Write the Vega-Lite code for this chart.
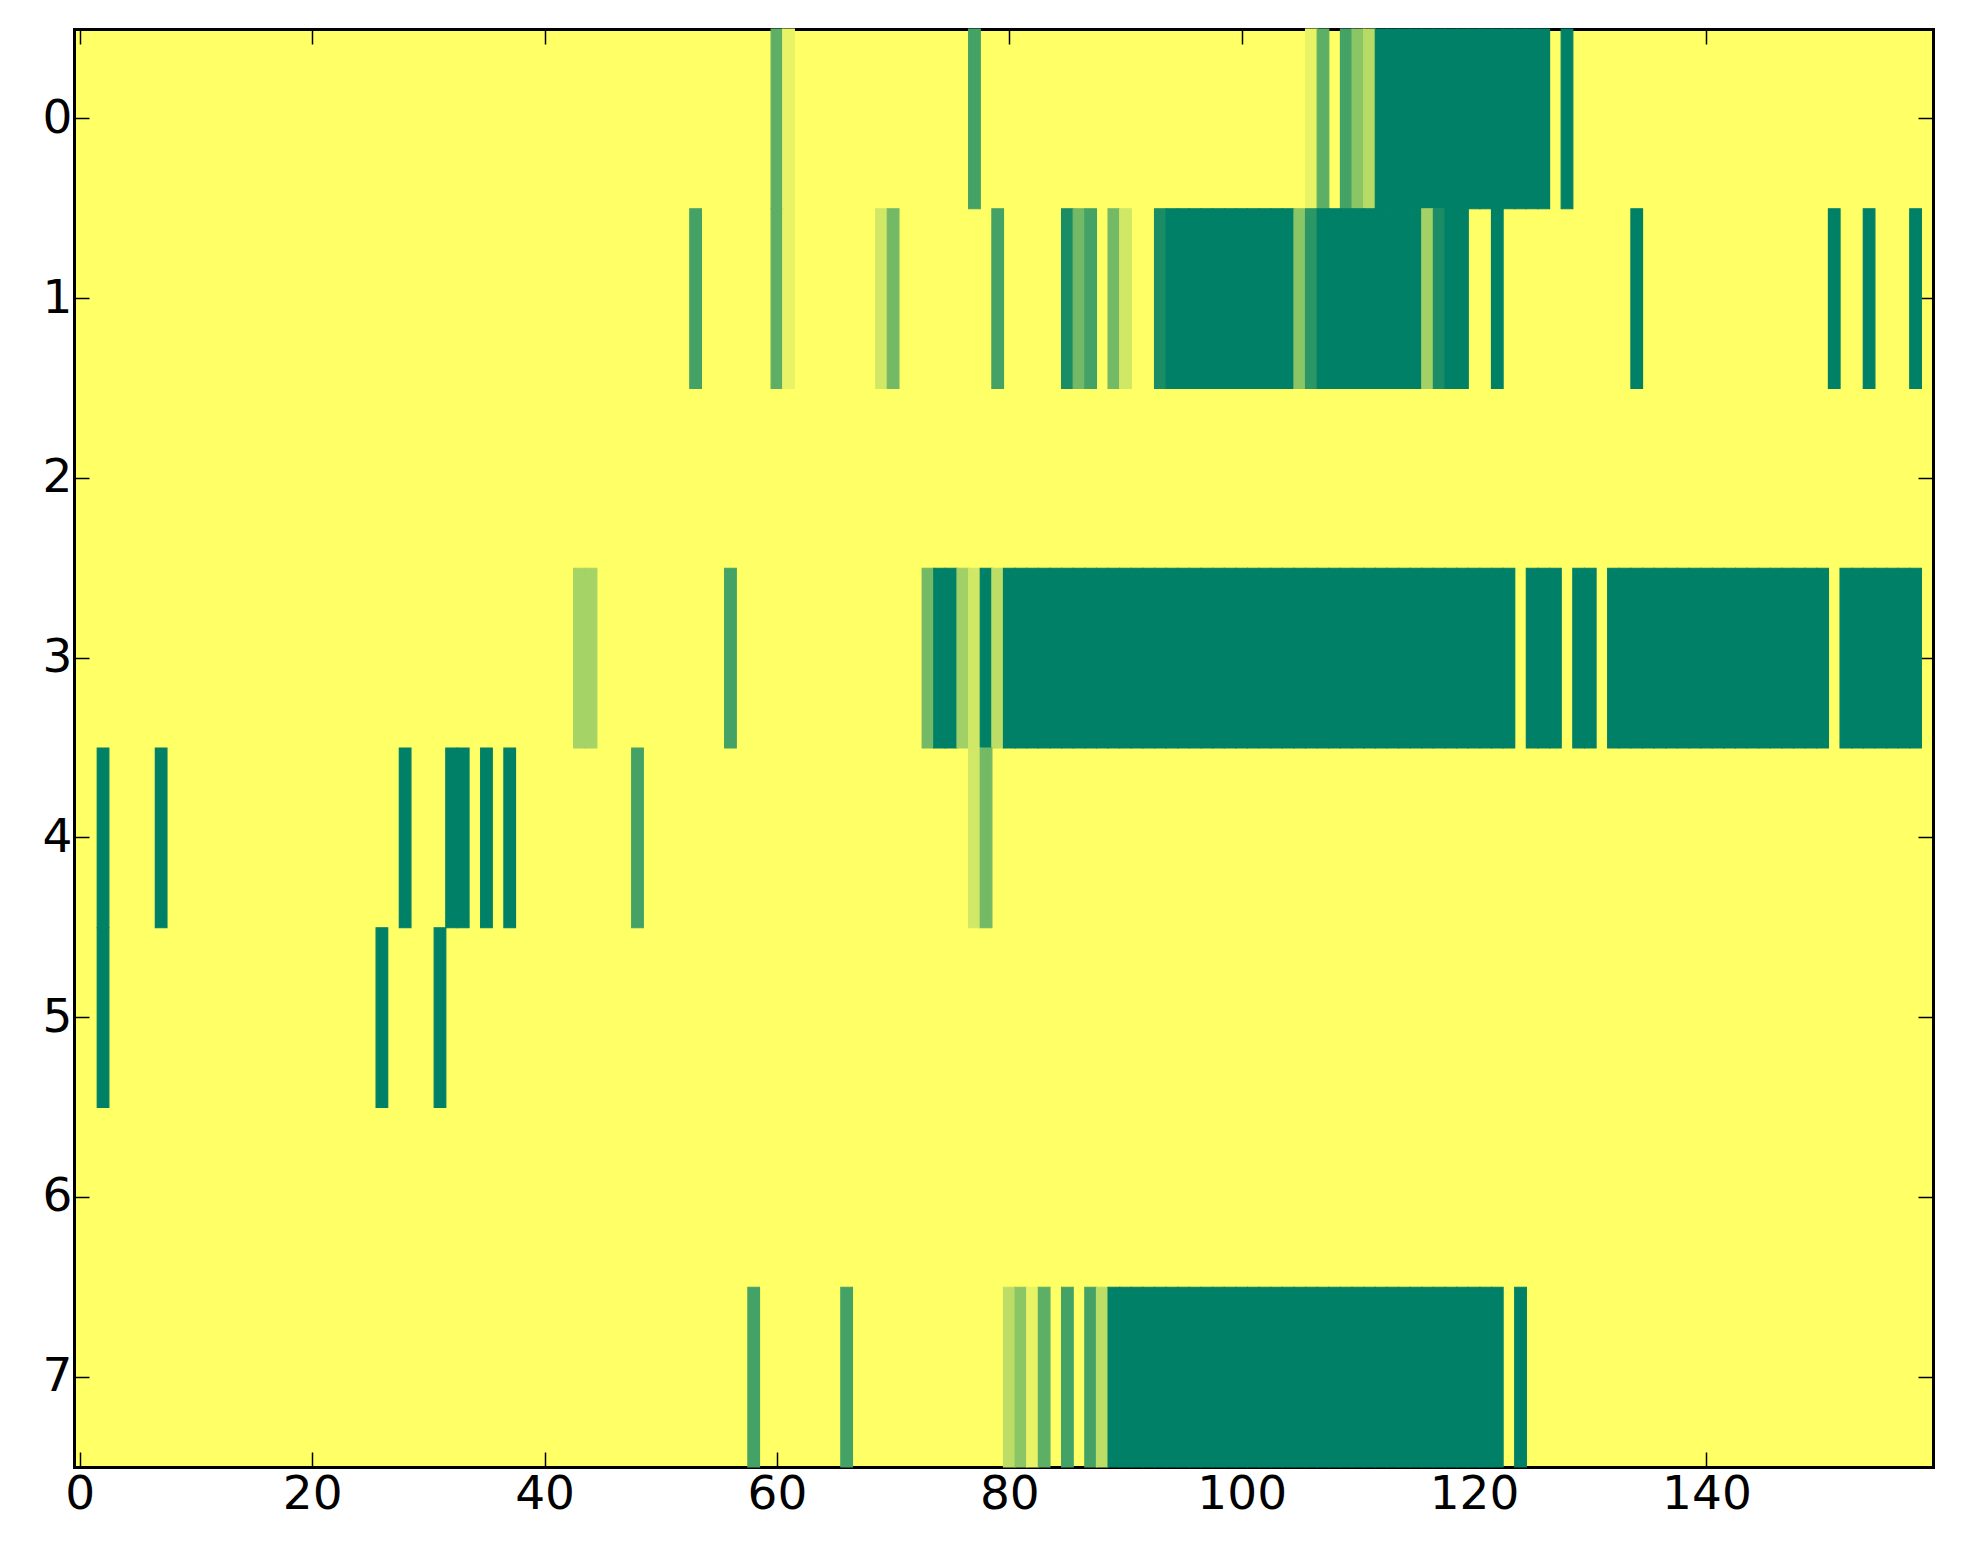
{
  "$schema": "https://vega.github.io/schema/vega-lite/v6.json",
  "width": 1859,
  "height": 1438,
  "autosize": {"type": "none"},
  "padding": {"left": 74, "top": 29, "right": 30, "bottom": 97},
  "background": "#ffffff",
  "config": {
    "view": {"stroke": null, "fill": "#ffff66"},
    "axis": {
      "grid": false,
      "title": null,
      "domain": true,
      "domainColor": "#000000",
      "domainWidth": 3,
      "domainCap": "square",
      "ticks": true,
      "tickColor": "#000000",
      "tickWidth": 1.5,
      "tickSize": -15,
      "labelFont": "DejaVu Sans",
      "labelFontSize": 47,
      "labelColor": "#000000",
      "zindex": 1
    }
  },
  "data": {
    "values": [
      {"row": 0, "col": 60, "value": 0.63}, {"row": 0, "col": 61, "value": 0.09}, {"row": 0, "col": 77, "value": 0.73},
      {"row": 0, "col": 106, "value": 0.09}, {"row": 0, "col": 107, "value": 0.63}, {"row": 0, "col": 109, "value": 0.73},
      {"row": 0, "col": 110, "value": 0.46}, {"row": 0, "col": 111, "value": 0.28},
      {"row": 0, "col": 112, "value": 1}, {"row": 0, "col": 113, "value": 1}, {"row": 0, "col": 114, "value": 1},
      {"row": 0, "col": 115, "value": 1}, {"row": 0, "col": 116, "value": 1}, {"row": 0, "col": 117, "value": 1},
      {"row": 0, "col": 118, "value": 1}, {"row": 0, "col": 119, "value": 1}, {"row": 0, "col": 120, "value": 1},
      {"row": 0, "col": 121, "value": 1}, {"row": 0, "col": 122, "value": 1}, {"row": 0, "col": 123, "value": 1},
      {"row": 0, "col": 124, "value": 1}, {"row": 0, "col": 125, "value": 1}, {"row": 0, "col": 126, "value": 1},
      {"row": 0, "col": 128, "value": 1},

      {"row": 1, "col": 53, "value": 0.73}, {"row": 1, "col": 60, "value": 0.63}, {"row": 1, "col": 61, "value": 0.09},
      {"row": 1, "col": 69, "value": 0.18}, {"row": 1, "col": 70, "value": 0.55}, {"row": 1, "col": 79, "value": 0.73},
      {"row": 1, "col": 85, "value": 0.9}, {"row": 1, "col": 86, "value": 0.55}, {"row": 1, "col": 87, "value": 0.73},
      {"row": 1, "col": 89, "value": 0.55}, {"row": 1, "col": 90, "value": 0.18}, {"row": 1, "col": 93, "value": 0.9},
      {"row": 1, "col": 94, "value": 1}, {"row": 1, "col": 95, "value": 1}, {"row": 1, "col": 96, "value": 1},
      {"row": 1, "col": 97, "value": 1}, {"row": 1, "col": 98, "value": 1}, {"row": 1, "col": 99, "value": 1},
      {"row": 1, "col": 100, "value": 1}, {"row": 1, "col": 101, "value": 1}, {"row": 1, "col": 102, "value": 1},
      {"row": 1, "col": 103, "value": 1}, {"row": 1, "col": 104, "value": 1}, {"row": 1, "col": 105, "value": 0.46},
      {"row": 1, "col": 106, "value": 0.83}, {"row": 1, "col": 107, "value": 1}, {"row": 1, "col": 108, "value": 1},
      {"row": 1, "col": 109, "value": 1}, {"row": 1, "col": 110, "value": 1}, {"row": 1, "col": 111, "value": 1},
      {"row": 1, "col": 112, "value": 1}, {"row": 1, "col": 113, "value": 1}, {"row": 1, "col": 114, "value": 1},
      {"row": 1, "col": 115, "value": 1}, {"row": 1, "col": 116, "value": 0.36}, {"row": 1, "col": 117, "value": 0.9},
      {"row": 1, "col": 118, "value": 1}, {"row": 1, "col": 119, "value": 1}, {"row": 1, "col": 122, "value": 1},
      {"row": 1, "col": 134, "value": 1}, {"row": 1, "col": 151, "value": 1}, {"row": 1, "col": 154, "value": 1},
      {"row": 1, "col": 158, "value": 1},

      {"row": 3, "col": 43, "value": 0.35}, {"row": 3, "col": 44, "value": 0.35}, {"row": 3, "col": 56, "value": 0.73},
      {"row": 3, "col": 73, "value": 0.55}, {"row": 3, "col": 74, "value": 1}, {"row": 3, "col": 75, "value": 1},
      {"row": 3, "col": 76, "value": 0.37}, {"row": 3, "col": 77, "value": 0.18}, {"row": 3, "col": 78, "value": 1},
      {"row": 3, "col": 79, "value": 0.26},
      {"row": 3, "col": 80, "value": 1}, {"row": 3, "col": 81, "value": 1}, {"row": 3, "col": 82, "value": 1},
      {"row": 3, "col": 83, "value": 1}, {"row": 3, "col": 84, "value": 1}, {"row": 3, "col": 85, "value": 1},
      {"row": 3, "col": 86, "value": 1}, {"row": 3, "col": 87, "value": 1}, {"row": 3, "col": 88, "value": 1},
      {"row": 3, "col": 89, "value": 1}, {"row": 3, "col": 90, "value": 1}, {"row": 3, "col": 91, "value": 1},
      {"row": 3, "col": 92, "value": 1}, {"row": 3, "col": 93, "value": 1}, {"row": 3, "col": 94, "value": 1},
      {"row": 3, "col": 95, "value": 1}, {"row": 3, "col": 96, "value": 1}, {"row": 3, "col": 97, "value": 1},
      {"row": 3, "col": 98, "value": 1}, {"row": 3, "col": 99, "value": 1}, {"row": 3, "col": 100, "value": 1},
      {"row": 3, "col": 101, "value": 1}, {"row": 3, "col": 102, "value": 1}, {"row": 3, "col": 103, "value": 1},
      {"row": 3, "col": 104, "value": 1}, {"row": 3, "col": 105, "value": 1}, {"row": 3, "col": 106, "value": 1},
      {"row": 3, "col": 107, "value": 1}, {"row": 3, "col": 108, "value": 1}, {"row": 3, "col": 109, "value": 1},
      {"row": 3, "col": 110, "value": 1}, {"row": 3, "col": 111, "value": 1}, {"row": 3, "col": 112, "value": 1},
      {"row": 3, "col": 113, "value": 1}, {"row": 3, "col": 114, "value": 1}, {"row": 3, "col": 115, "value": 1},
      {"row": 3, "col": 116, "value": 1}, {"row": 3, "col": 117, "value": 1}, {"row": 3, "col": 118, "value": 1},
      {"row": 3, "col": 119, "value": 1}, {"row": 3, "col": 120, "value": 1}, {"row": 3, "col": 121, "value": 1},
      {"row": 3, "col": 122, "value": 1}, {"row": 3, "col": 123, "value": 1},
      {"row": 3, "col": 125, "value": 1}, {"row": 3, "col": 126, "value": 1}, {"row": 3, "col": 127, "value": 1},
      {"row": 3, "col": 129, "value": 1}, {"row": 3, "col": 130, "value": 1},
      {"row": 3, "col": 132, "value": 1}, {"row": 3, "col": 133, "value": 1}, {"row": 3, "col": 134, "value": 1},
      {"row": 3, "col": 135, "value": 1}, {"row": 3, "col": 136, "value": 1}, {"row": 3, "col": 137, "value": 1},
      {"row": 3, "col": 138, "value": 1}, {"row": 3, "col": 139, "value": 1}, {"row": 3, "col": 140, "value": 1},
      {"row": 3, "col": 141, "value": 1}, {"row": 3, "col": 142, "value": 1}, {"row": 3, "col": 143, "value": 1},
      {"row": 3, "col": 144, "value": 1}, {"row": 3, "col": 145, "value": 1}, {"row": 3, "col": 146, "value": 1},
      {"row": 3, "col": 147, "value": 1}, {"row": 3, "col": 148, "value": 1}, {"row": 3, "col": 149, "value": 1},
      {"row": 3, "col": 150, "value": 1},
      {"row": 3, "col": 152, "value": 1}, {"row": 3, "col": 153, "value": 1}, {"row": 3, "col": 154, "value": 1},
      {"row": 3, "col": 155, "value": 1}, {"row": 3, "col": 156, "value": 1}, {"row": 3, "col": 157, "value": 1},
      {"row": 3, "col": 158, "value": 1},

      {"row": 4, "col": 2, "value": 1}, {"row": 4, "col": 7, "value": 1}, {"row": 4, "col": 28, "value": 1},
      {"row": 4, "col": 32, "value": 1}, {"row": 4, "col": 33, "value": 1}, {"row": 4, "col": 35, "value": 1},
      {"row": 4, "col": 37, "value": 1}, {"row": 4, "col": 48, "value": 0.73}, {"row": 4, "col": 77, "value": 0.18},
      {"row": 4, "col": 78, "value": 0.55},

      {"row": 5, "col": 2, "value": 1}, {"row": 5, "col": 26, "value": 1}, {"row": 5, "col": 31, "value": 1},

      {"row": 7, "col": 58, "value": 0.73}, {"row": 7, "col": 66, "value": 0.73}, {"row": 7, "col": 80, "value": 0.26},
      {"row": 7, "col": 81, "value": 0.46}, {"row": 7, "col": 82, "value": 0.09}, {"row": 7, "col": 83, "value": 0.63},
      {"row": 7, "col": 85, "value": 0.73}, {"row": 7, "col": 87, "value": 0.73}, {"row": 7, "col": 88, "value": 0.26},
      {"row": 7, "col": 89, "value": 1}, {"row": 7, "col": 90, "value": 1}, {"row": 7, "col": 91, "value": 1},
      {"row": 7, "col": 92, "value": 1}, {"row": 7, "col": 93, "value": 1}, {"row": 7, "col": 94, "value": 1},
      {"row": 7, "col": 95, "value": 1}, {"row": 7, "col": 96, "value": 1}, {"row": 7, "col": 97, "value": 1},
      {"row": 7, "col": 98, "value": 1}, {"row": 7, "col": 99, "value": 1}, {"row": 7, "col": 100, "value": 1},
      {"row": 7, "col": 101, "value": 1}, {"row": 7, "col": 102, "value": 1}, {"row": 7, "col": 103, "value": 1},
      {"row": 7, "col": 104, "value": 1}, {"row": 7, "col": 105, "value": 1}, {"row": 7, "col": 106, "value": 1},
      {"row": 7, "col": 107, "value": 1}, {"row": 7, "col": 108, "value": 1}, {"row": 7, "col": 109, "value": 1},
      {"row": 7, "col": 110, "value": 1}, {"row": 7, "col": 111, "value": 1}, {"row": 7, "col": 112, "value": 1},
      {"row": 7, "col": 113, "value": 1}, {"row": 7, "col": 114, "value": 1}, {"row": 7, "col": 115, "value": 1},
      {"row": 7, "col": 116, "value": 1}, {"row": 7, "col": 117, "value": 1}, {"row": 7, "col": 118, "value": 1},
      {"row": 7, "col": 119, "value": 1}, {"row": 7, "col": 120, "value": 1}, {"row": 7, "col": 121, "value": 1},
      {"row": 7, "col": 122, "value": 1}, {"row": 7, "col": 124, "value": 1}
    ]
  },
  "transform": [
    {"bin": {"step": 1, "extent": [-0.5, 159.5], "nice": false}, "field": "col", "as": ["col_start", "col_end"]}
  ],
  "layer": [
    {
      "mark": {"type": "rect", "strokeWidth": 1.2},
      "encoding": {
        "x": {
          "field": "col_start",
          "type": "quantitative",
          "scale": {"domain": [-0.5, 159.5], "nice": false, "zero": false},
          "axis": {"orient": "bottom", "values": [0, 20, 40, 60, 80, 100, 120, 140], "labelPadding": 19}
        },
        "x2": {"field": "col_end"},
        "y": {
          "field": "row",
          "type": "ordinal",
          "scale": {"domain": [0, 1, 2, 3, 4, 5, 6, 7], "paddingInner": 0, "paddingOuter": 0},
          "axis": {"orient": "left", "labelAngle": 0, "labelPadding": 17}
        },
        "color": {
          "field": "value",
          "type": "quantitative",
          "scale": {"domain": [0, 1], "range": ["#ffff66", "#008066"], "interpolate": "rgb"},
          "legend": null
        },
        "stroke": {
          "field": "value",
          "type": "quantitative",
          "scale": {"domain": [0, 1], "range": ["#ffff66", "#008066"], "interpolate": "rgb"},
          "legend": null
        }
      }
    },
    {
      "mark": {"type": "rect", "opacity": 0},
      "encoding": {
        "x": {
          "field": "col_start",
          "type": "quantitative",
          "axis": {"orient": "top", "values": [0, 20, 40, 60, 80, 100, 120, 140], "labels": false}
        },
        "x2": {"field": "col_end"},
        "y": {
          "field": "row",
          "type": "ordinal",
          "axis": {"orient": "right", "labels": false}
        }
      }
    }
  ],
  "resolve": {"axis": {"x": "independent", "y": "independent"}}
}
